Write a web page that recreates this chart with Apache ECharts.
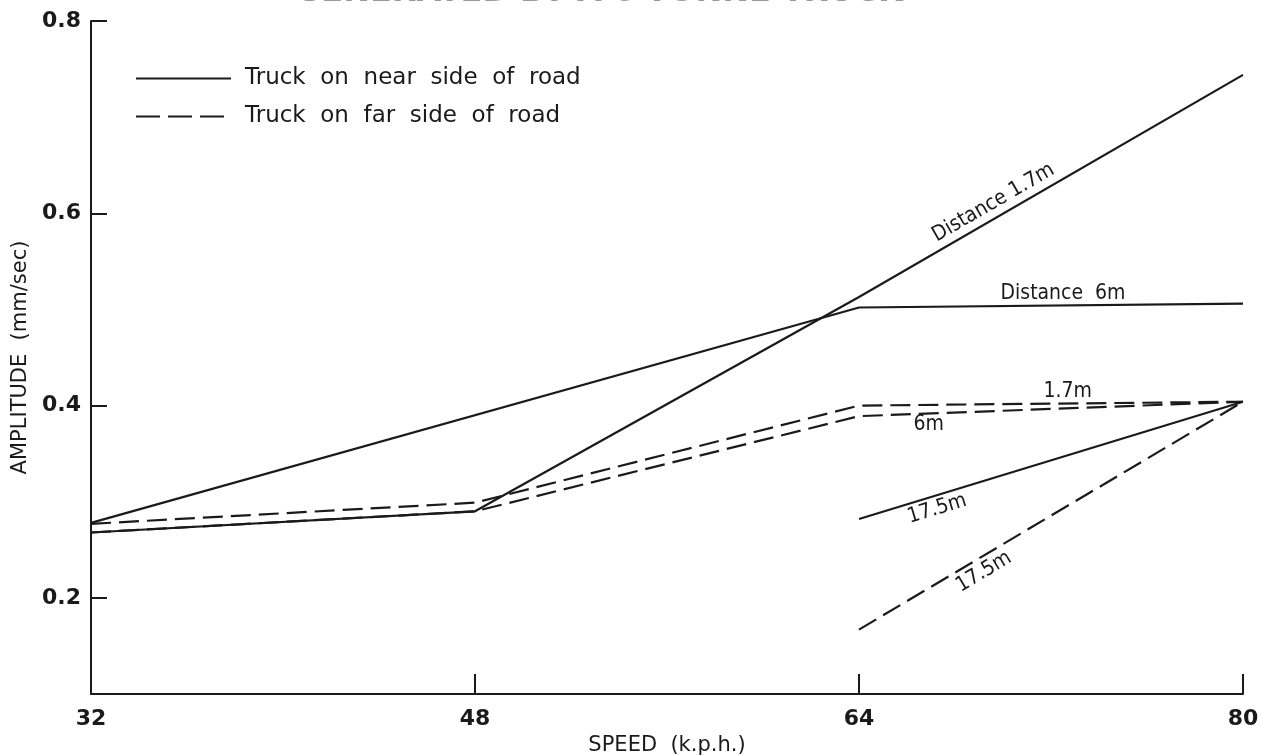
<!DOCTYPE html>
<html><head><meta charset="utf-8">
<script src="https://cdn.jsdelivr.net/npm/echarts@6/dist/echarts.min.js"></script>
<style>html,body{margin:0;padding:0;background:#fff}#c{width:1261px;height:756px}</style>
</head><body><div id="c"></div>
<script>
const speeds = [32, 48, 64, 80];
const yTicks = [0.2, 0.4, 0.6, 0.8];
// near side (solid)
const near17 = [0.268, 0.290, 0.513, 0.744];
const near6 = [0.278, null, 0.502, 0.506];
const near175 = [null, null, 0.282, 0.404];
// far side (dashed)
const far17 = [0.277, 0.299, 0.400, 0.404];
const far6 = [0.268, 0.290, 0.389, 0.404];
const far175 = [null, null, 0.167, 0.404];

const NEAR = 'Truck  on  near  side  of  road';
const FAR = 'Truck  on  far  side  of  road';
const INK = '#1a1a1a';
const FONT = 'DejaVu Sans';
const LFONT = 'DejaVu Sans Condensed, DejaVu Sans';

function pairs(vals){ return speeds.map((s,i)=>[s, vals[i]]); }
function mk(name, vals, dashed, labels){
  return {
    name, type:'line', data: pairs(vals), connectNulls:true, symbol:'none', silent:true,
    lineStyle:{color:INK, width:2.2, type: dashed ? [20,8] : 'solid'},
    itemStyle:{color:INK},
    markPoint: labels ? {symbol:'circle', symbolSize:2, silent:true,
      itemStyle:{color:'rgba(0,0,0,0)'},
      data: labels.map(l=>({
      coord:l.coord, label:{show:true, formatter:l.text, rotate:l.rot||0, color:INK,
        fontFamily:LFONT, fontSize:21, position:'inside'}}))} : undefined
  };
}

const chart = echarts.init(document.getElementById('c'));
chart.setOption({
  animation:false,
  title:{text:'GENERATED BY A 6 TONNE TRUCK', left:290, top:-28,
    textStyle:{fontFamily:FONT, fontSize:32, fontWeight:'bold', color:'#999'}},
  legend:{orient:'vertical', left:130, top:62, itemWidth:95, itemHeight:12, itemGap:15,
    selectedMode:false,
    itemStyle:{color:'rgba(0,0,0,0)', borderWidth:0},
    data:[{name:NEAR}, {name:FAR, lineStyle:{type:[24,8]}}],
    textStyle:{fontFamily:FONT, fontSize:23, color:INK, padding:[0,0,0,9]}},
  grid:{left:91, right:18, top:21, bottom:62, outerBoundsMode:'none', containLabel:false},
  xAxis:{type:'value', min:32, max:80, interval:16,
    name:'SPEED  (k.p.h.)', nameLocation:'middle', nameGap:40,
    nameTextStyle:{fontFamily:FONT, fontSize:21, color:INK},
    axisLine:{lineStyle:{color:INK, width:2}},
    axisTick:{inside:true, length:20, lineStyle:{color:INK, width:2}},
    axisLabel:{fontFamily:FONT, fontSize:22, fontWeight:'bold', color:INK, margin:14},
    splitLine:{show:false}},
  yAxis:{type:'value', min:0.1, max:0.8, interval:0.1,
    name:'AMPLITUDE  (mm/sec)', nameLocation:'middle', nameGap:60, nameRotate:90,
    nameTextStyle:{fontFamily:FONT, fontSize:21, color:INK},
    axisLine:{show:true, lineStyle:{color:INK, width:2}},
    axisTick:{show:true, inside:true, length:16, customValues:yTicks, lineStyle:{color:INK, width:2}},
    axisLabel:{fontFamily:FONT, fontSize:22, fontWeight:'bold', color:INK, margin:10,
      customValues:yTicks, formatter:v=>v.toFixed(1)},
    splitLine:{show:false}},
  series:[
    mk(NEAR, near17, false, [{coord:[69.6,0.611], text:'Distance 1.7m', rot:30}]),
    mk(NEAR, near6, false, [{coord:[72.5,0.516], text:'Distance  6m'}]),
    mk(NEAR, near175, false, [{coord:[67.25,0.2925], text:'17.5m', rot:17}]),
    mk(FAR, far17, true, [{coord:[72.7,0.415], text:'1.7m'}]),
    mk(FAR, far6, true, [{coord:[66.9,0.380], text:'6m'}]),
    mk(FAR, far175, true, [{coord:[69.2,0.227], text:'17.5m', rot:31}])
  ]
});
</script></body></html>
